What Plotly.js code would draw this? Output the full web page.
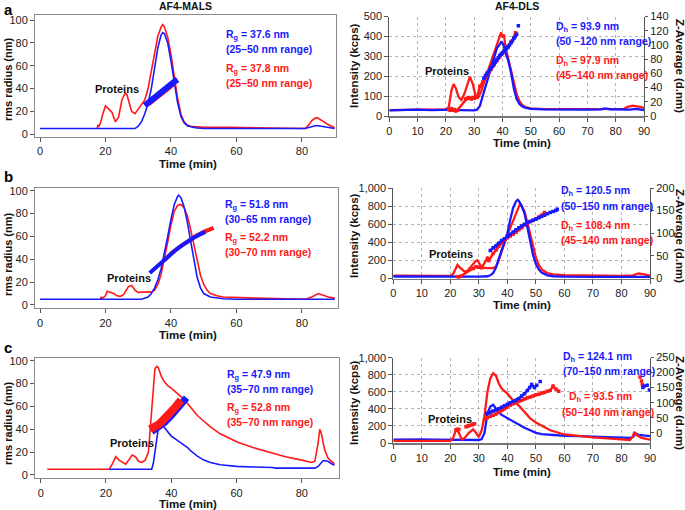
<!DOCTYPE html>
<html><head><meta charset="utf-8">
<script src="https://cdn.plot.ly/plotly-3.0.1.min.js"></script>
<style>html,body{margin:0;padding:0;background:#fff}#chart{width:685px;height:510px}</style>
</head><body><div id="chart"></div>
<script>
// ---------- Panel a: AF4-MALS ----------
const maRedX = [17.5,17.6,18,18.5,19,20,21,22,23,24,25,26,26.5,27,28,29,30,31,32,33,34,35,36,37,37.5,38,39,40,41,42,43,44,45,46,48,50,58,81,82,83,84,84.5,85,86,87,88,89,90];
const maRedY = [5,8,7,10,16,25,22,19,11,15,30,36,35,30,20,18,22,26,30,40,55,72,86,94,96,94,85,70,50,32,18,11,8,7,6.5,6,6,5,8,12,14,14.5,14,12,10,8.5,7,6];
const maBlueX = [0,29,30,31,32,33,34,35,36,37,37.5,38,39,40,41,42,43,44,45,46,47,48,50,81,82,83,84,85,86,87,88,90];
const maBlueY = [5,5,7,11,18,27,40,58,76,87,89,88,80,64,45,28,16,10,7.5,6.5,6,5.5,5,5,6,7,7.5,7.5,7,6,5.5,5];
const maRgRedX = [33,34,35,36,37,38,39,40,41];
const maRgRedY = [27,29,31,33.5,35.5,38,40.5,43,45.5];
const maRgBlueX = [32,33,34,35,36,37,38,39,40,41,42];
const maRgBlueY = [25,27.5,29.5,31.5,34,36,38.5,41,43.5,46,48];

// ---------- Panel b: AF4-MALS ----------
const mbRedX = [18.5,18.6,19,20,20.5,21.5,22.5,23.5,24.5,25.5,27,28,29,30,32,34,35,36,37,38,39,40,41,42,43,44,45,46,47,48,49,50,51,52,54,56,60,66,81,83,85,87,88,90];
const mbRedY = [5,7,6,8,12,11,10,8,7.5,9,16,17,13,11,11.5,11.5,13,18,27,40,55,70,82,87,88,85,78,66,52,38,26,18,13,10,8,7,6.5,6,5,7,10,8,7,6];
const mbBlueX = [0,31,33,34,35,36,37,38,39,40,41,42,42.3,43,44,45,46,47,48,49,50,52,54,56,60,90];
const mbBlueY = [5,5,7,10,15,22,32,45,60,75,88,95,96,94,86,72,55,38,24,15,10,7,6,5.5,5,5];
const mbRgRedX = [38,40,42,44,46,48,50,52,53];
const mbRgRedY = [39,45,49.5,53.5,57.5,61,64,66.5,67.5];
const mbRgBlueX = [33.5,35,37,39,41,43,45,47,49,50.5];
const mbRgBlueY = [28,32,37.5,42.5,47,51.5,55.5,59,62,64];

// ---------- Panel c: AF4-MALS ----------
const mcRedX = [2,21,22,23,24,25,26,27,28,29,30,31,32,33,33.5,34,34.5,35,35.5,36,36.5,37,38,39,40,42,44,46,48,50,52,55,58,60,65,70,75,80,83,84,85,85.5,86,87,88,89,90];
const mcRedY = [5,5,10,16,13,11,9.5,13,17.5,16,12,11,13,20,40,62,82,93,95,94,90,86,81,78,76,71,66,59,52,47,42,36,32,29,24,20,16,13,11,12,28,40,36,22,15,12,10];
const mcBlueX = [21,34,34.5,35,35.5,36,36.5,37,38,39,40,41,42,43,44,45,46,48,50,52,55,58,60,65,70,71,72,80,84,85,86,86.5,87,88,89,90];
const mcBlueY = [5,5,10,20,32,40,44,45,41,37,34,32,30,28.5,26.5,24,21,16.5,13,11,9,8,7.5,7,7,6.5,6,6,6,7.5,11,12.5,12.5,12,10,8.5];
const mcRgRedX = [33.5,34,35,36,37,38,39,40,41,42,43];
const mcRgRedY = [40,40.5,42,44,46.5,49,52,55,58.5,62,65.5];
const mcRgBlueX = [34,36,38,40,42,43,44.7];
const mcRgBlueY = [38,41.5,46,52,58.5,62,67.5];

// ---------- Panel a: AF4-DLS ----------
const daRedX = [0,5,10,15,20,21,22,22.7,23.5,24.5,25.5,26.5,27.5,28.5,29.5,30.5,31.5,32.5,33.5,34.5,35.5,36.5,37.5,38.5,39,39.5,40,40.5,41,42,43,44,45,46,47,48,50,55,60,70,80,83,84,85,86,87,88,89,90];
const daRedY = [30,32,32,32,33,45,130,160,140,95,80,110,160,198,160,100,95,125,170,210,250,290,330,380,400,420,395,410,350,290,220,160,110,75,55,45,38,35,35,35,35,36,45,50,52,50,48,45,40];
const daBlueX = [0,5,10,15,20,21.5,22,22.5,25,30,31,32,33,34,35,36,37,38,39,39.7,40.5,41,42,43,44,45,46,47,48,50,55,60,70,75,76,78,80,85,87,90];
const daBlueY = [28,30,32,30,30,32,40,30,30,28,32,50,100,150,200,250,300,340,360,375,350,320,280,220,140,85,60,48,42,36,33,32,32,33,38,34,33,32,36,30];
const daZRedX = [21,21.5,22,22.5,23,23.5,24,27,27.5,28,28.5,29,29.5,30,30.5,31,32,33,34,35,36,37,38,39,40,41,42,43,44,44.6];
const daZRedY = [9,8,10,8,9,7,8,24,25,26,25,24,26,25,27,26,42,48,54,60,66,72,78,83,88,93,98,104,110,117];
const daZBlueX = [33.4,34,34.5,35,35.5,36,36.5,37,37.5,38,38.5,39,39.5,40,40.5,41,41.5,42,42.5,43,43.5,44,44.5,45];
const daZBlueY = [53,57,60,62,65,68,70,73,76,79,82,85,87,89,91,93,95,97,100,103,106,109,112,115];
const daZBlueOutX = [45.6];
const daZBlueOutY = [127];

// ---------- Panel b: AF4-DLS ----------
const dbRedX = [0,10,20,21,22,22.5,23,24,25,26,27,28,29,29.5,30,31,33,35,36,37,38,39,40,41,42,43,44,44.5,45,46,47,48,49,50,51,52,54,56,60,65,70,80,84,86,88,90];
const dbRedY = [32,30,28,50,120,150,130,100,75,85,120,160,195,200,170,120,115,115,130,200,300,400,480,560,640,720,800,830,800,740,620,480,340,230,150,100,60,45,38,35,32,30,35,55,45,30];
const dbBlueX = [0,10,20,30,33,34,35,36,37,38,39,40,41,42,43,43.6,44,45,46,47,48,49,50,51,52,54,56,60,70,80,85,90];
const dbBlueY = [22,20,18,20,25,35,60,120,220,320,420,500,650,780,850,870,860,800,720,560,400,260,160,100,65,35,25,20,18,18,20,18];
const dbZRedX = [22.5,23,23.5,28,29,30,31,33,33.5,35,36,37,38,39,40,41,42,43,44,45,46,47,48,49,50,51,52,53];
const dbZRedY = [4,3,5,22,26,25,24,45,40,55,63,72,80,86,90,94,98,102,108,112,118,122,126,128,132,136,140,146];
const dbZBlueX = [34,35,36,37,38,39,40,41,42,43,44,45,46,47,48,49,50,51,52,53,54,55,56,57,57.5];
const dbZBlueY = [62,68,72,78,84,88,93,98,103,108,112,116,120,123,126,129,131,134,137,140,143,146,148,150,153];

// ---------- Panel c: AF4-DLS ----------
const dcRedX = [0,5,10,15,20,21,22,23,24,25,26.5,28,29,30,31,32,33,34,35,36,37,38,40,42,44,46,48,50,52,55,60,65,70,75,80,83,84,84.5,85.5,87,90];
const dcRedY = [25,28,25,25,25,60,160,120,40,60,120,160,120,70,150,320,600,760,820,790,700,640,580,500,440,370,290,240,200,150,100,80,65,55,45,35,80,130,90,60,40];
const dcBlueX = [0,5,10,15,20,22,25,28,30,31,32,33,34,35,36,37,38,39,40,42,44,46,48,50,52,55,60,65,70,75,80,83,84,85,86,88,90];
const dcBlueY = [40,45,42,40,40,35,35,35,35,45,120,350,430,450,400,360,330,310,290,250,215,180,150,120,105,95,85,80,75,70,65,60,70,110,95,90,80];
const dcZRedX = [22,22.5,23,null,25.5,26,26.5,null,27.5,28,28.5,null,32,33,34,35,36,37,38,39,40,41,42,43,44,45,46,47,48,49,50,51,52,53,54,55,56,57,58];
const dcZRedY = [10,12,11,null,20,22,24,null,26,28,30,null,45,50,55,58,62,68,74,80,86,92,96,100,104,108,112,116,119,122,126,128,132,134,138,140,155,145,138];
const dcZRedOutX = [86.5,87,87.3];
const dcZRedOutY = [185,172,160];
const dcZBlueX = [32.7,33.5,34,35,36,37,38,39,40,41,42,43,44,45,46,47,47.8,48.5,49.5,50.3];
const dcZBlueY = [64,66,68,72,76,80,85,90,95,100,104,108,114,122,130,140,150,160,150,158];
const dcZBlueOutX = [51.5,87.5,88,89,89.8];
const dcZBlueOutY = [170,150,155,158,142];

const RED = 'rgb(255,25,25)';
const BLUE = 'rgb(25,25,255)';
const FONT = 'Liberation Sans, Arial, Helvetica, sans-serif';

function ln(x, y, xa, ya, color, width) {
  return {x, y, xaxis: xa, yaxis: ya, type: 'scatter', mode: 'lines',
    line: {color, width}, hoverinfo: 'skip', showlegend: false, connectgaps: false};
}
function band(x, y, xa, ya, color, width, size) {
  return {x, y, xaxis: xa, yaxis: ya, type: 'scatter', mode: 'lines+markers',
    line: {color, width}, marker: {color, size, symbol: 'square'}, hoverinfo: 'skip', showlegend: false, connectgaps: false};
}
function pts(x, y, xa, ya, color, size) {
  return {x, y, xaxis: xa, yaxis: ya, type: 'scatter', mode: 'markers',
    marker: {color, size, symbol: 'square'}, hoverinfo: 'skip', showlegend: false};
}

const traces = [
  ln(maRedX, maRedY, 'x', 'y', RED, 1.6),
  ln(maBlueX, maBlueY, 'x', 'y', BLUE, 1.6),
  ln(maRgRedX, maRgRedY, 'x', 'y', RED, 6),
  ln(maRgBlueX, maRgBlueY, 'x', 'y', BLUE, 6),
  ln(daRedX, daRedY, 'x2', 'y2', RED, 2.3),
  ln(daBlueX, daBlueY, 'x2', 'y2', BLUE, 2.3),
  band(daZRedX, daZRedY, 'x2', 'y3', RED, 2.5, 3.5),
  band(daZBlueX, daZBlueY, 'x2', 'y3', BLUE, 2.5, 3.5),
  pts(daZBlueOutX, daZBlueOutY, 'x2', 'y3', BLUE, 3.5),
  ln(mbRedX, mbRedY, 'x3', 'y4', RED, 1.6),
  ln(mbBlueX, mbBlueY, 'x3', 'y4', BLUE, 1.6),
  ln(mbRgRedX, mbRgRedY, 'x3', 'y4', RED, 4),
  ln(mbRgBlueX, mbRgBlueY, 'x3', 'y4', BLUE, 4),
  ln(dbRedX, dbRedY, 'x4', 'y5', RED, 2.3),
  ln(dbBlueX, dbBlueY, 'x4', 'y5', BLUE, 2.3),
  band(dbZRedX, dbZRedY, 'x4', 'y6', RED, 2.5, 3.5),
  band(dbZBlueX, dbZBlueY, 'x4', 'y6', BLUE, 2.5, 3.5),
  ln(mcRedX, mcRedY, 'x5', 'y7', RED, 1.6),
  ln(mcBlueX, mcBlueY, 'x5', 'y7', BLUE, 1.6),
  ln(mcRgBlueX, mcRgBlueY, 'x5', 'y7', BLUE, 7),
  ln(mcRgRedX, mcRgRedY, 'x5', 'y7', RED, 8),
  ln(dcBlueX, dcBlueY, 'x6', 'y8', BLUE, 2.3),
  ln(dcRedX, dcRedY, 'x6', 'y8', RED, 2.3),
  band(dcZRedX, dcZRedY, 'x6', 'y9', RED, 2.5, 3.5),
  pts(dcZRedOutX, dcZRedOutY, 'x6', 'y9', RED, 3.5),
  band(dcZBlueX, dcZBlueY, 'x6', 'y9', BLUE, 2.5, 3.5),
  pts(dcZBlueOutX, dcZBlueOutY, 'x6', 'y9', BLUE, 3.5)
];

const W = 685, H = 510;
const fx = px => px / W;
const fy = py => 1 - py / H;
const tickFont = {family: FONT, size: 11, color: '#222'};

function malsX(l, r, range, anchor) {
  return {domain: [fx(l), fx(r)], range, anchor, tickvals: [0,20,40,60,80], ticks: 'outside', ticklen: 4,
    tickcolor: '#555', showline: true, mirror: true, linecolor: '#8a8a8a', linewidth: 1, showgrid: false, zeroline: false, tickfont: tickFont};
}
function malsY(t, b, range, anchor) {
  return {domain: [fy(b), fy(t)], range, anchor, tickvals: [0,20,40,60,80,100], ticks: 'outside', ticklen: 4,
    tickcolor: '#555', showline: true, mirror: true, linecolor: '#8a8a8a', linewidth: 1, showgrid: false, zeroline: false, tickfont: tickFont};
}
function dlsX(l, r, anchor) {
  return {domain: [fx(l), fx(r)], range: [0, 90], anchor, dtick: 10, tick0: 0, ticks: 'outside', ticklen: 4,
    tickcolor: '#555', showline: true, mirror: false, linecolor: '#777', linewidth: 1.5, showgrid: true,
    gridcolor: '#b5b5b5', griddash: 'dot', gridwidth: 1, zeroline: false, tickfont: tickFont};
}
function dlsY(t, b, range, dtick, anchor) {
  return {domain: [fy(b), fy(t)], range, anchor, dtick, tick0: 0, tickformat: ',d', ticks: 'outside', ticklen: 4,
    tickcolor: '#555', showline: true, linecolor: '#555', linewidth: 1, showgrid: true, gridcolor: '#b5b5b5',
    griddash: 'dot', zeroline: false, tickfont: tickFont};
}
function dlsY2(range, dtick, anchor, overlay) {
  return {range, anchor, overlaying: overlay, side: 'right', dtick, tick0: 0, ticks: 'outside', ticklen: 3,
    tickcolor: '#555', showline: true, linecolor: '#555', linewidth: 1, showgrid: false, zeroline: false, tickfont: tickFont};
}

const layout = {
  width: W, height: H, autosize: false,
  margin: {l: 0, r: 0, t: 0, b: 0},
  paper_bgcolor: '#fff', plot_bgcolor: 'rgba(0,0,0,0)',
  showlegend: false,
  font: {family: FONT, color: '#222'},
  xaxis: malsX(35, 336, [-1.53, 90.4], 'y'),
  yaxis: malsY(15, 137, [-2.4, 104.4], 'x'),
  xaxis2: dlsX(389.3, 644, 'y2'),
  yaxis2: dlsY(16.5, 116, [0, 500], 100, 'x2'),
  yaxis3: dlsY2([0, 140], 20, 'x2', 'y2'),
  xaxis3: malsX(35, 338, [-1.53, 91.0], 'y4'),
  yaxis4: malsY(187.7, 308.3, [-2.9, 102.6], 'x3'),
  xaxis4: dlsX(393.3, 650, 'y5'),
  yaxis5: dlsY(188, 278.5, [0, 1000], 200, 'x4'),
  yaxis6: dlsY2([0, 200], 50, 'x4', 'y5'),
  xaxis5: malsX(35, 339, [-1.75, 91.4], 'y7'),
  yaxis7: malsY(357.7, 478.3, [-2.9, 102.6], 'x5'),
  xaxis6: dlsX(393.3, 650, 'y8'),
  yaxis8: dlsY(357.5, 443, [0, 1005], 200, 'x6'),
  yaxis9: dlsY2([-34, 250], 50, 'x6', 'y8'),
  annotations: []
};

function ann(text, px, py, opts) {
  layout.annotations.push(Object.assign({text, x: fx(px), y: fy(py), xref: 'paper', yref: 'paper',
    showarrow: false, xanchor: 'left', yanchor: 'middle',
    font: {family: FONT, size: 11, color: '#111'}}, opts || {}));
}
const bold = (s) => '<b>' + s + '</b>';
const f = (size, color) => ({family: FONT, size, color});
const LS = 10.5;

ann(bold('a'), 2, 9, {font: f(15, '#000')});
ann(bold('b'), 2, 176, {font: f(15, '#000')});
ann(bold('c'), 2, 347, {font: f(15, '#000')});
ann(bold('AF4-MALS'), 185, 6, {xanchor: 'center', font: f(10.5, '#111')});
ann(bold('AF4-DLS'), 517, 6, {xanchor: 'center', font: f(10.5, '#111')});

const mx = [[164, 80], [335, 255], [504, 424]];
mx.forEach(([ty, cy]) => {
  ann(bold('Time (min)'), 188, ty, {xanchor: 'center', font: f(11.5, '#111')});
  ann(bold('rms radius (nm)'), 8, cy, {xanchor: 'center', textangle: -90, font: f(11, '#111')});
});
const dx = [[143, 66, 522], [305, 236, 522], [472, 403, 522]];
dx.forEach(([ty, cy, cx]) => {
  ann(bold('Time (min)'), cx, ty, {xanchor: 'center', font: f(11.5, '#111')});
  ann(bold('Intensity (kcps)'), 354, cy, {xanchor: 'center', textangle: -90, font: f(11.5, '#111')});
  ann(bold('Z-Average (d.nm)'), 680, cy, {xanchor: 'center', textangle: 90, font: f(11.5, '#111')});
});

ann(bold('Proteins'), 93, 89);
ann(bold('Proteins'), 105, 278);
ann(bold('Proteins'), 108, 443);
ann(bold('Proteins'), 423, 71);
ann(bold('Proteins'), 427, 254);
ann(bold('Proteins'), 426, 419);

ann(bold('R<sub>g</sub> = 37.6 nm'), 224, 35, {font: f(LS, BLUE)});
ann(bold('(25–50 nm range)'), 224, 49, {font: f(LS, BLUE)});
ann(bold('R<sub>g</sub> = 37.8 nm'), 224, 69, {font: f(LS, RED)});
ann(bold('(25–50 nm range)'), 224, 83, {font: f(LS, RED)});

ann(bold('R<sub>g</sub> = 51.8 nm'), 223, 205, {font: f(LS, BLUE)});
ann(bold('(30–65 nm range)'), 223, 219, {font: f(LS, BLUE)});
ann(bold('R<sub>g</sub> = 52.2 nm'), 223, 238, {font: f(LS, RED)});
ann(bold('(30–70 nm range)'), 223, 252, {font: f(LS, RED)});

ann(bold('R<sub>g</sub> = 47.9 nm'), 225, 375, {font: f(LS, BLUE)});
ann(bold('(35–70 nm range)'), 225, 389, {font: f(LS, BLUE)});
ann(bold('R<sub>g</sub> = 52.8 nm'), 225, 408, {font: f(LS, RED)});
ann(bold('(35–70 nm range)'), 225, 422, {font: f(LS, RED)});

ann(bold('D<sub>h</sub> = 93.9 nm'), 554, 27, {font: f(LS, BLUE)});
ann(bold('(50 –120 nm range)'), 554, 41, {font: f(LS, BLUE)});
ann(bold('D<sub>h</sub> = 97.9 nm'), 554, 61, {font: f(LS, RED)});
ann(bold('(45–140 nm range)'), 554, 75, {font: f(LS, RED)});

ann(bold('D<sub>h</sub> = 120.5 nm'), 559, 191, {font: f(LS, BLUE)});
ann(bold('(50–150 nm range)'), 559, 206, {font: f(LS, BLUE)});
ann(bold('D<sub>h</sub> = 108.4 nm'), 559, 226, {font: f(LS, RED)});
ann(bold('(45–140 nm range)'), 559, 240, {font: f(LS, RED)});

ann(bold('D<sub>h</sub> = 124.1 nm'), 561, 357, {font: f(LS, BLUE)});
ann(bold('(70–150 nm range)'), 561, 371, {font: f(LS, BLUE)});
ann(bold('D<sub>h</sub> = 93.5 nm'), 567, 397, {font: f(LS, RED)});
ann(bold('(50–140 nm range)'), 560, 412, {font: f(LS, RED)});

Plotly.newPlot('chart', traces, layout, {staticPlot: true, displayModeBar: false});
</script>
</body></html>
